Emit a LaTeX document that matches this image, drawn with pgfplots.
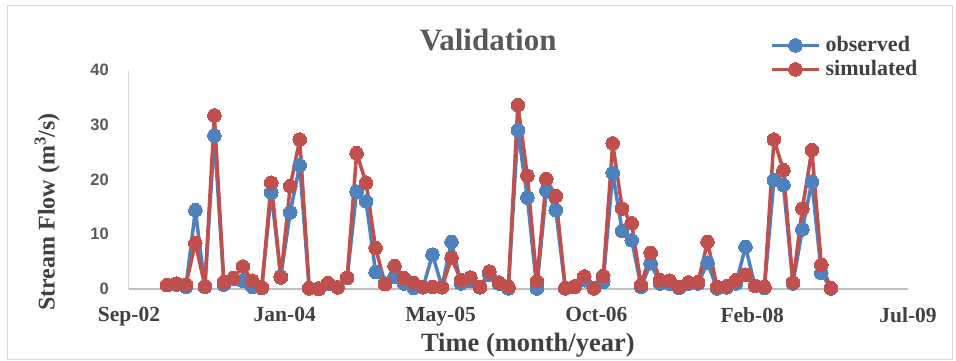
\documentclass[border=0pt]{standalone}
\usepackage{pgfplots}
\pgfplotsset{compat=1.18}
\usepackage{pgfplotstable}
\usepackage{fontspec}
\setmainfont{Liberation Serif}
\newfontfamily\arialfont{Liberation Sans}
\definecolor{obsblue}{HTML}{4F81BD}
\definecolor{simred}{HTML}{C0504D}
\definecolor{titlegray}{HTML}{595959}
\definecolor{labgray}{HTML}{404040}
\definecolor{axgray}{HTML}{BFBFBF}
\definecolor{yaxgray}{HTML}{D9D9D9}
\definecolor{framegray}{HTML}{D9D9D9}

\pgfplotstableread{
x obs sim
4 0.7 0.7
5 0.8 1.0
6 0.4 0.8
7 14.4 8.4
8 0.4 0.5
9 28.0 31.7
10 0.8 1.3
11 1.8 2.0
12 1.5 4.1
13 0.4 1.5
14 0.2 0.3
15 17.6 19.4
16 2.3 2.1
17 14.0 18.8
18 22.6 27.3
19 0.1 0.2
20 0.0 0.1
21 0.9 1.1
22 0.3 0.3
23 2.0 2.1
24 17.8 24.8
25 16.0 19.4
26 3.1 7.5
27 1.0 0.9
28 2.2 4.2
29 1.0 2.0
30 0.2 1.1
31 0.3 0.4
32 6.3 0.4
33 0.4 0.3
34 8.6 5.7
35 1.0 1.6
36 1.5 2.1
37 0.3 0.3
38 2.6 3.2
39 1.0 1.2
40 0.1 0.4
41 29.0 33.6
42 16.7 20.7
43 0.1 1.4
44 18.0 20.1
45 14.4 17.0
46 0.1 0.2
47 0.4 0.5
48 1.6 2.3
49 0.1 0.2
50 1.3 2.4
51 21.2 26.6
52 10.6 14.7
53 8.9 12.0
54 0.4 0.7
55 4.7 6.6
56 1.0 1.6
57 1.0 1.5
58 0.2 0.4
59 1.0 1.2
60 1.0 1.3
61 4.8 8.6
62 0.1 0.4
63 0.3 0.5
64 1.0 1.6
65 7.7 2.6
66 0.6 0.6
67 0.2 0.4
68 19.9 27.3
69 19.0 21.7
70 1.0 1.2
71 10.9 14.7
72 19.6 25.4
73 2.9 4.4
74 0.1 0.2
}\flowdata

\begin{document}
\begin{tikzpicture}[x=1pt,y=1pt]
\path[use as bounding box] (0,0) rectangle (956,360);
\draw[framegray, line width=1pt] (7,0.5) rectangle (952,355);
\begin{axis}[
  at={(129pt,71pt)}, anchor=south west,
  scale only axis, width=779pt, height=219pt,
  xmin=0, xmax=82.136, ymin=0, ymax=40,
  enlargelimits=false, clip=false,
  axis x line=bottom, axis y line=left,
  x axis line style={-, axgray, line width=1.5pt},
  y axis line style={-, yaxgray, line width=1pt},
  major tick length=0pt,
  xtick={0,16.427,32.854,49.281,65.708,82.136},
  xticklabels={Sep-02,Jan-04,May-05,Oct-06,Feb-08,Jul-09},
  ytick={0,10,20,30,40},
  /pgf/number format/assume math mode=true,
  xticklabel style={anchor=north, inner sep=0pt, yshift=-18pt, text=labgray,
    font=\bfseries\fontsize{21.5}{21.5}\selectfont},
  yticklabel style={anchor=east, inner sep=0pt, xshift=-20pt, text=titlegray,
    font=\arialfont\bfseries\fontsize{16.5}{16.5}\selectfont},
  title={Validation},
  title style={at={(axis description cs:0.461,1.11)}, anchor=center, text=titlegray,
    font=\bfseries\fontsize{31}{31}\selectfont},
  xlabel={Time (month/year)},
  xlabel style={at={(axis description cs:0.512,-0.256)}, anchor=center, text=labgray,
    font=\bfseries\fontsize{26.5}{26.5}\selectfont},
  ylabel={Stream Flow (m\textsuperscript{3}/s)},
  ylabel style={at={(axis description cs:-0.105,0.352)}, anchor=center, rotate=0, text=labgray,
    font=\bfseries\fontsize{24}{24}\selectfont},
  legend style={at={(axis description cs:0.8228,1.168)}, anchor=north west,
    draw=none, fill=none, inner sep=0pt,
    font=\bfseries\fontsize{22}{22}\selectfont,
    nodes={inner sep=3pt, text height=15pt, text depth=3pt, text=labgray}},
  legend cell align=left,
  legend image code/.code={
    \draw[#1, mark=none] (0pt,0pt) -- (47pt,0pt);
    \draw[#1, only marks] plot coordinates {(23.5pt,0pt)};
    \path (49pt,0pt);
  },
]
\addplot[obsblue, line width=3.5pt, line join=round, mark=*, mark size=6.8pt,
  mark options={solid, fill=obsblue, draw=obsblue, line width=0pt}]
  table[x=x, y=obs] {\flowdata};
\addlegendentry{observed}
\addplot[simred, line width=3.5pt, line join=round, mark=*, mark size=6.8pt,
  mark options={solid, fill=simred, draw=simred, line width=0pt}]
  table[x=x, y=sim] {\flowdata};
\addlegendentry{simulated}
\end{axis}
\end{tikzpicture}
\end{document}
